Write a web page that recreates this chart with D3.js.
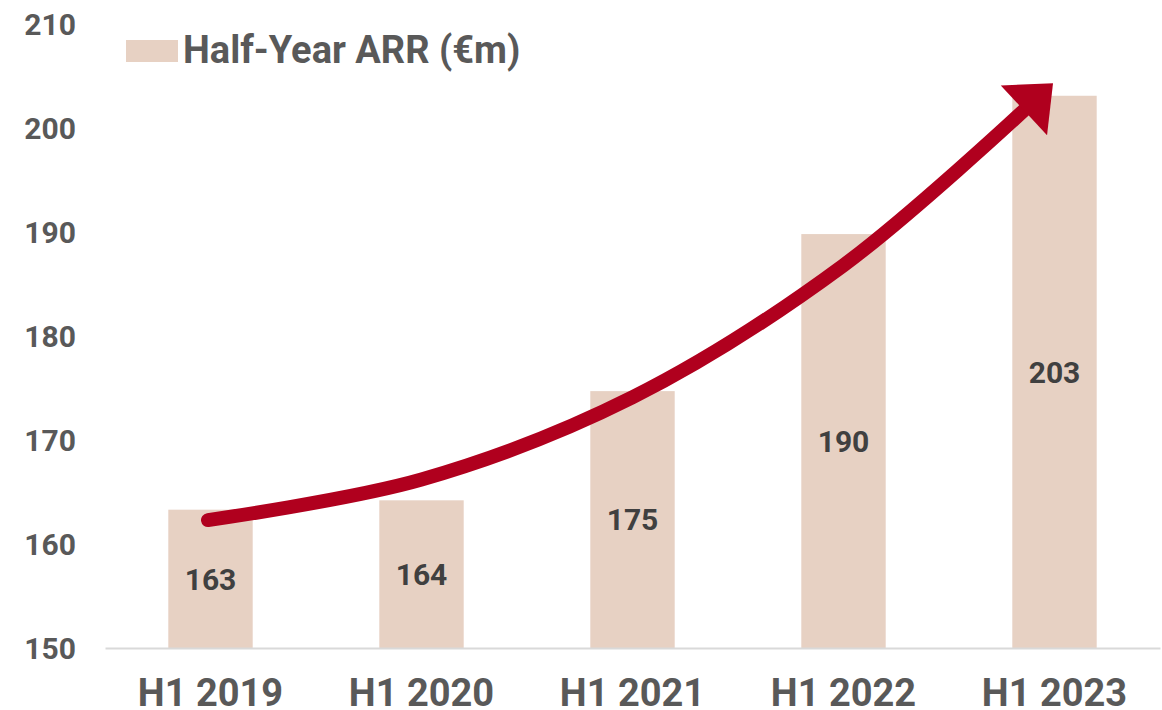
<!DOCTYPE html>
<html>
  <head>
    <title>Half-Year ARR</title>
    <script src="https://cdnjs.cloudflare.com/ajax/libs/d3/7.8.5/d3.min.js"></script>
    <style>
      body { margin: 0; background: #fff; }
      svg text { font-family: Roboto, "Noto Sans", sans-serif; font-weight: bold; }
    </style>
  </head>
<body>
  <svg id="chart" width="1162" height="710"></svg>
<script type="text/javascript">
    // chart data
    var periods = ["H1 2019", "H1 2020", "H1 2021", "H1 2022", "H1 2023"];
    var arr = [163.3, 164.2, 174.7, 189.8, 203.1];
    var arrLabels = ["163", "164", "175", "190", "203"];
    var yTicks = [150, 160, 170, 180, 190, 200, 210];
    var legendLabel = "Half-Year ARR (€m)";

    // growth arrow, in data space: [category index, value]
    var arrowIdx = [-0.012, 1.0, 2.0, 3.0, 3.855];
    var arrowVal = [162.3, 166.2, 174.1, 186.8, 201.7];
    var arrowTip = [3.993, 204.3];

    var svg = d3.select("#chart");

    var x = d3.scaleBand()
        .domain(periods)
        .range([105, 1160])
        .paddingInner(0.6)
        .paddingOuter(0.3);

    var y = d3.scaleLinear()
        .domain([150, 210])
        .range([648, 24]);

    // position of a (fractional) category index
    function xi(i) {
        return x(periods[0]) + x.bandwidth() / 2 + i * x.step();
    }

    // y axis labels only
    var yAxis = svg.append("g")
        .attr("transform", "translate(76,0)")
        .call(d3.axisLeft(y).tickValues(yTicks).tickSize(0).tickPadding(0));
    yAxis.select(".domain").remove();
    yAxis.selectAll("text")
        .attr("fill", "#595959")
        .style("font-size", "30px")
        .attr("dy", "0.36em");

    // bars
    svg.selectAll(".bar")
        .data(arr)
        .enter().append("rect")
        .attr("class", "bar")
        .attr("x", function(d, i) { return x(periods[i]); })
        .attr("width", x.bandwidth())
        .attr("y", function(d) { return y(d); })
        .attr("height", function(d) { return y(150) - y(d); })
        .attr("fill", "#e7d1c3");

    // baseline + category labels
    var xAxis = svg.append("g")
        .attr("transform", "translate(0," + y(150) + ")")
        .call(d3.axisBottom(x).tickSize(0).tickPadding(0));
    xAxis.select(".domain")
        .attr("stroke", "#d9d9d9")
        .attr("stroke-width", 2);
    xAxis.selectAll("text")
        .attr("fill", "#595959")
        .style("font-size", "38px")
        .attr("y", 58)
        .attr("dy", 0);

    // value labels centred in the bars
    svg.selectAll(".val")
        .data(arr)
        .enter().append("text")
        .attr("class", "val")
        .attr("x", function(d, i) { return x(periods[i]) + x.bandwidth() / 2; })
        .attr("y", function(d) { return (y(d) + y(150)) / 2; })
        .attr("dy", "0.36em")
        .attr("text-anchor", "middle")
        .attr("fill", "#404040")
        .style("font-size", "30px")
        .text(function(d, i) { return arrLabels[i]; });

    // arrow
    var pts = arrowIdx.map(function(d, i) { return [xi(d), y(arrowVal[i])]; });
    var line = d3.line().curve(d3.curveCatmullRom.alpha(0.5));
    svg.append("path")
        .attr("d", line(pts))
        .attr("fill", "none")
        .attr("stroke", "#b0001e")
        .attr("stroke-width", 14)
        .attr("stroke-linecap", "round");

    var base = pts[pts.length - 1];
    var tip = [xi(arrowTip[0]), y(arrowTip[1])];
    var dx = tip[0] - base[0], dy = tip[1] - base[1];
    var len = Math.sqrt(dx * dx + dy * dy);
    var nx = -dy / len * 34, ny = dx / len * 34;
    svg.append("path")
        .attr("d", "M" + tip + "L" + [base[0] + nx, base[1] + ny] +
                   "L" + [base[0] - nx, base[1] - ny] + "Z")
        .attr("fill", "#b0001e");

    // legend
    svg.append("rect")
        .attr("x", 126).attr("y", 40)
        .attr("width", 52).attr("height", 22)
        .attr("fill", "#e7d1c3");
    svg.append("text")
        .attr("x", 183).attr("y", 63)
        .attr("fill", "#595959")
        .style("font-size", "38px")
        .text(legendLabel);
</script>
</body>
</html>
